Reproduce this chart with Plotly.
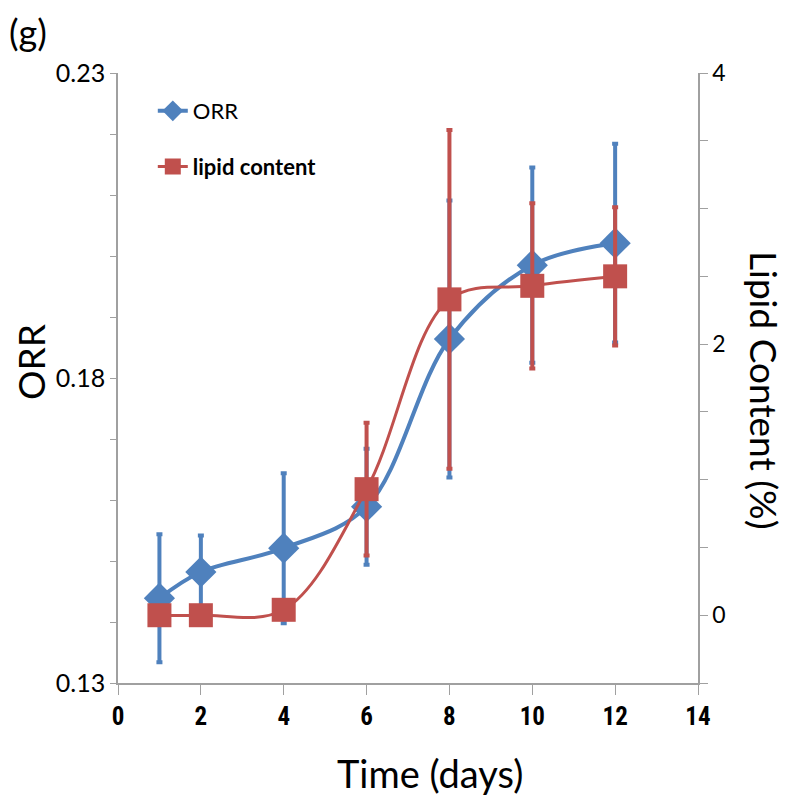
import plotly.graph_objects as go

days = [1, 2, 4, 6, 8, 10, 12]
orr = [0.1439, 0.1482, 0.1521, 0.1589, 0.1864, 0.1985, 0.2021]
orr_err = [0.0105, 0.0060, 0.0123, 0.0095, 0.0227, 0.0160, 0.0163]
lipid = [0.0, 0.0, 0.04, 0.93, 2.33, 2.43, 2.50]
lipid_err = [0.0, 0.0, 0.0, 0.49, 1.25, 0.61, 0.51]

BLUE = "#4F81BD"
RED = "#C0504D"
AX = "#A0A0A0"
FONT = "Lato, 'Open Sans', sans-serif"
NARROW = "'Liberation Sans Narrow', 'Roboto Condensed', Lato, sans-serif"

fig = go.Figure()
fig.add_trace(go.Scatter(
    x=days, y=orr, name="ORR", mode="lines+markers",
    line=dict(color=BLUE, width=4, shape="spline", smoothing=1.0),
    marker=dict(symbol="diamond", size=24, color=BLUE),
    error_y=dict(type="data", array=orr_err, color=BLUE, thickness=4, width=3),
    legendgroup="a", yaxis="y",
))
fig.add_trace(go.Scatter(
    x=days, y=lipid, name="<b>lipid content</b>", mode="lines+markers",
    line=dict(color=RED, width=3, shape="spline", smoothing=1.0),
    marker=dict(symbol="square", size=24, color=RED),
    error_y=dict(type="data", array=lipid_err, color=RED, thickness=4, width=3),
    legendgroup="b", yaxis="y2",
))

L, T, PW, PH = 110, 65, 580, 610


def px_x(p):
    return (p - 8 - L) / PW


def px_y(p):
    return 1 - (p - 8 - T) / PH


fig.update_layout(
    width=799, height=800,
    paper_bgcolor="white", plot_bgcolor="white",
    margin=dict(l=L, r=799 - L - PW, t=T, b=800 - T - PH),
    font=dict(family=FONT, color="black"),
    showlegend=True,
    legend=dict(x=0.06, y=px_y(90), xanchor="left", yanchor="top",
                bgcolor="rgba(0,0,0,0)", font=dict(size=22, family=FONT),
                traceorder="grouped", tracegroupgap=24, itemwidth=30),
    xaxis=dict(range=[0, 14], tick0=0, dtick=2, showline=True, linecolor=AX,
               linewidth=1.5, ticks="outside", tickcolor=AX, ticklen=10,
               showgrid=False, zeroline=False,
               tickfont=dict(size=25, family=NARROW, weight="bold")),
    yaxis=dict(range=[0.13, 0.23], tick0=0.13, dtick=0.05, tickformat=".2f",
               showline=True, linecolor=AX, linewidth=1.5, ticks="outside",
               tickcolor=AX, ticklen=6, showgrid=False, zeroline=False,
               minor=dict(dtick=0.01, tick0=0.13, ticks="outside", ticklen=6, tickcolor=AX),
               tickfont=dict(size=25, family=FONT)),
    yaxis2=dict(range=[-0.5, 4], tick0=0, dtick=2, overlaying="y", side="right",
                showline=True, linecolor=AX, linewidth=1.5, ticks="outside",
                tickcolor=AX, ticklen=8, showgrid=False, zeroline=False,
                minor=dict(dtick=0.5, tick0=0, ticks="outside", ticklen=8, tickcolor=AX),
                tickfont=dict(size=23, family=FONT)),
)

def note(text, x, y, size, angle=0):
    fig.add_annotation(text=text, xref="paper", yref="paper", x=px_x(x), y=px_y(y),
                       xanchor="center", yanchor="middle", showarrow=False,
                       textangle=angle, font=dict(size=size, family=FONT))

note("(g)", 28, 32, 36)
note("Time (days)", 430, 773, 38)
note("ORR", 30, 362, 37, -90)
note("Lipid Content (%)", 765, 390, 37, 90)

fig.write_html("out.html")
